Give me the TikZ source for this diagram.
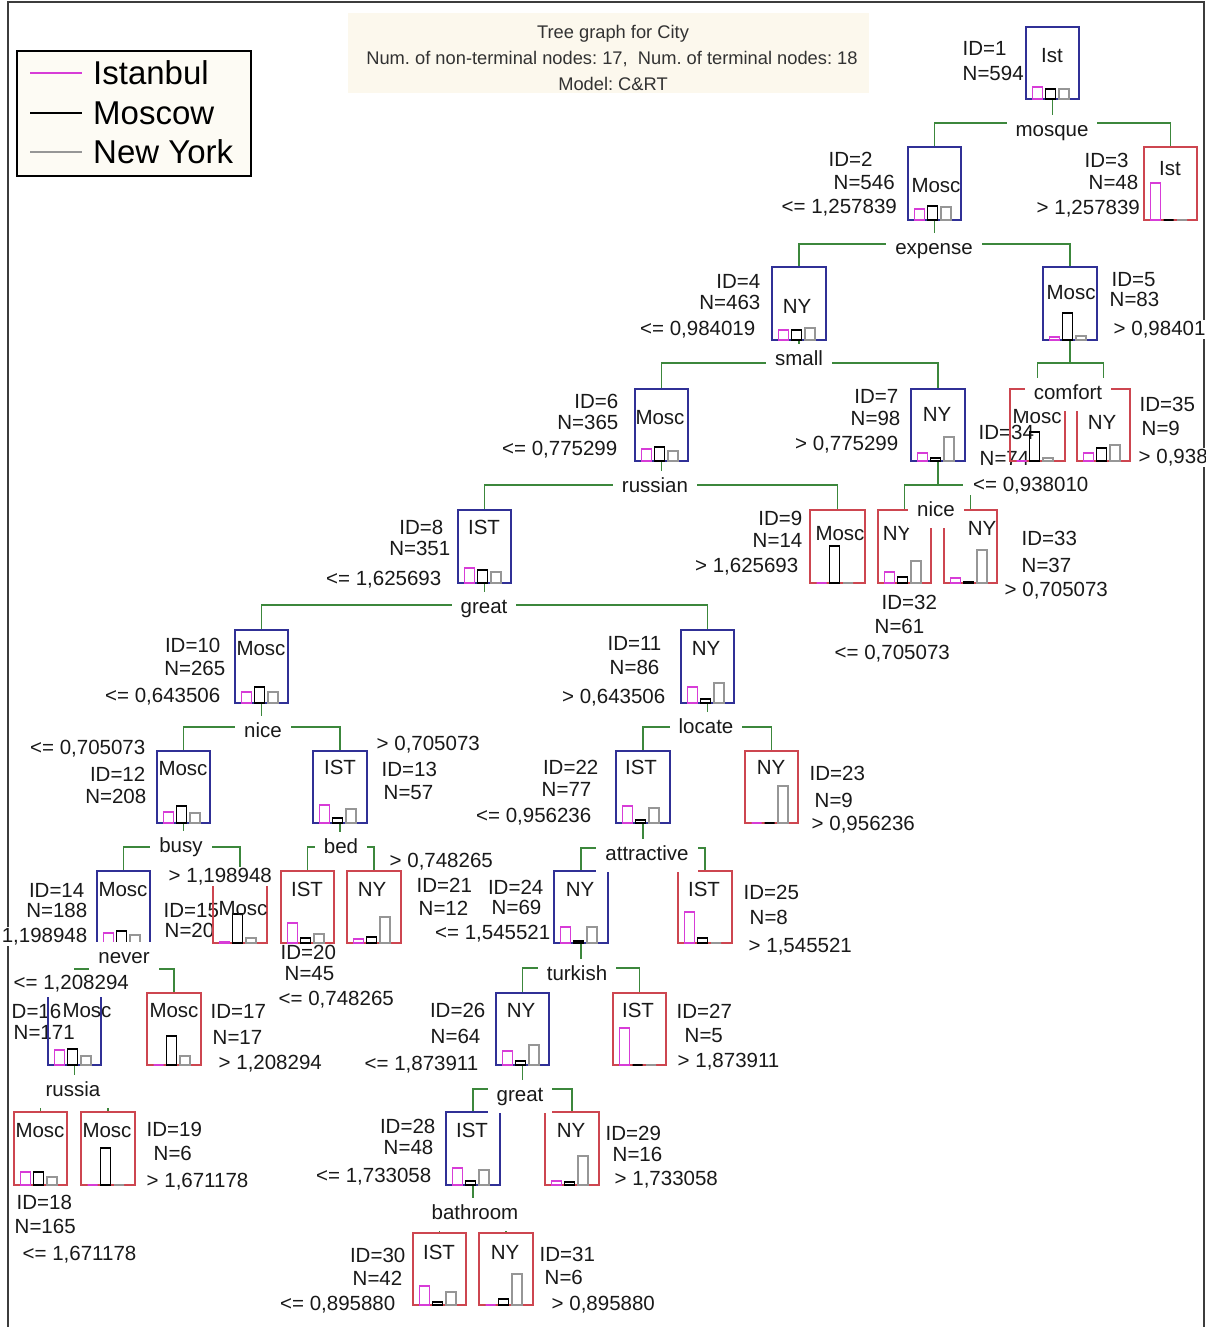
\documentclass[tikz,border=0pt]{standalone}
\usepackage{fontspec}
\setmainfont{Liberation Sans}
\usetikzlibrary{calc}
\frenchspacing

\definecolor{nodeblue}{RGB}{48,48,150}
\definecolor{leafred}{RGB}{205,70,80}
\definecolor{branchgreen}{RGB}{60,135,60}
\definecolor{istmag}{RGB}{215,60,215}
\definecolor{nygray}{RGB}{150,150,150}
\definecolor{titlebg}{RGB}{252,248,237}
\definecolor{legendbg}{RGB}{253,251,244}
\definecolor{framegray}{RGB}{60,60,60}
\definecolor{titletxt}{RGB}{50,50,50}

\pgfdeclarelayer{framelayer}
\pgfdeclarelayer{connlayer}
\pgfdeclarelayer{infolayer}
\pgfdeclarelayer{toplayer}
\pgfsetlayers{framelayer,connlayer,infolayer,main,toplayer}

\tikzset{
  every node/.style={font=\fontsize{20.5}{24}\selectfont, text=black!90},
  inner/.style={draw=nodeblue, line width=1.3pt, inner sep=0pt, outer sep=0pt},
  leaf/.style={draw=leafred, line width=1.3pt, inner sep=0pt, outer sep=0pt},
  barm/.style={draw=istmag, line width=1.2pt},
  barb/.style={draw=black, line width=1.2pt},
  barg/.style={draw=nygray, line width=1.2pt},
  boxlab/.style={anchor=mid, yshift=-5pt, inner sep=0pt},
  info/.style={fill=white, inner xsep=1.5pt, inner ysep=1pt, yshift=-5pt},
  split/.style={fill=white, anchor=mid, yshift=-4pt, inner xsep=9pt, inner ysep=6.5pt,
                text height=15pt, text depth=4.5pt},
  conn/.style={draw=branchgreen, line width=1.3pt},
  titletext/.style={font=\fontsize{18.3}{22}\selectfont, text=titletxt, anchor=mid, yshift=-3.5pt},
  legtext/.style={font=\fontsize{33}{38}\selectfont, text=black, anchor=mid west, yshift=-9pt, inner sep=0pt},
}

% box of a tree node: name, left, top, right, bottom, style
\newcommand{\tbox}[6]{\node[#6, minimum width={#4-#2}, minimum height={#5-#3}] (#1) at ({(#2+#4)/2},{(#3+#5)/2}) {};}
% class histogram inside a node: name, Istanbul, Moscow, New York bar heights
\newcommand{\tbars}[4]{%
  \draw[barm] ($(#1.south west)+(6.5,0)$) rectangle ++(10,-#2);
  \draw[barb] ($(#1.south west)+(19.5,0)$) rectangle ++(10,-#3);
  \draw[barg] ($(#1.south west)+(33,0)$) rectangle ++(10,-#4);}
% predicted class written in a node
\newcommand{\tlab}[4]{\node[boxlab] (#1t) at (#2,#3) {#4};}
% ID / N / threshold text beside a node
\newcommand{\infolab}[5]{\node[info, anchor=#4] (#1) at (#2,#3) {#5};}
% split: name, parent, left child, right child, label x, label y, bar y, variable
\newcommand{\tsplit}[8]{%
  \begin{pgfonlayer}{connlayer}
    \coordinate (#1h) at (#5,#7);
    \draw[conn] (#2.south) -- (#2.south |- #1h);
    \draw[conn] (#3.north) |- (#1h) -| (#4.north);
  \end{pgfonlayer}
  \begin{pgfonlayer}{toplayer}
    \node[split] (#1) at (#5,#6) {#8};
  \end{pgfonlayer}}

\begin{document}
\begin{tikzpicture}[x=1pt, y=-1pt]
\useasboundingbox (0,0) rectangle (1206,1327);

\begin{pgfonlayer}{framelayer}
  \fill[white] (0,0) rectangle (1206,1327);
  \draw[framegray, line width=2pt] (8,1330) -- (8,2) -- (1204,2) -- (1204,1330);
\end{pgfonlayer}

% title panel
\node[fill=titlebg, minimum width=521, minimum height=80, inner sep=0pt] (title) at (608,53) {};
\node[titletext] (title1) at (613,32) {Tree graph for City};
\node[titletext] (title2) at (612,58) {Num. of non-terminal nodes: 17,\ \ Num. of terminal nodes: 18};
\node[titletext] (title3) at (613,84) {Model: C\&RT};

% legend
\node[draw=black, line width=1.2pt, fill=legendbg, minimum width=234, minimum height=125, inner sep=0pt] (legend) at (134,113.5) {};
\draw[istmag, line width=1.3pt] (30,73) -- (82,73);
\draw[black, line width=1.3pt] (30,113) -- (82,113);
\draw[nygray, line width=1.3pt] (30,152) -- (82,152);
\node[legtext] (leg1) at (93,73) {Istanbul};
\node[legtext] (leg2) at (93,113) {Moscow};
\node[legtext] (leg3) at (93,152) {New York};

% node boxes
\tbox{n1}{1026}{27}{1079}{99}{inner}
\tbox{n2}{908}{147}{961}{220}{inner}
\tbox{n3}{1144}{147}{1197}{220}{leaf}
\tbox{n4}{772}{267}{826}{340}{inner}
\tbox{n5}{1043}{267}{1097}{340}{inner}
\tbox{n6}{635}{389}{688}{461}{inner}
\tbox{n7}{911}{389}{965}{461}{inner}
\tbox{n8}{458}{510}{511}{583}{inner}
\tbox{n9}{810}{510}{865}{583}{leaf}
\tbox{n10}{235}{630}{288}{703}{inner}
\tbox{n11}{681}{630}{734}{703}{inner}
\tbox{n12}{157}{751}{210}{823}{inner}
\tbox{n13}{313}{751}{367}{823}{inner}
\tbox{n14}{97}{871}{150}{943}{inner}
\tbox{n15}{213}{870}{267}{943}{leaf}
\tbox{n16}{48}{993}{101}{1065}{inner}
\tbox{n17}{147}{993}{201}{1065}{leaf}
\tbox{n18}{14}{1112}{67}{1185}{leaf}
\tbox{n19}{81}{1112}{135}{1185}{leaf}
\tbox{n20}{281}{871}{334}{943}{leaf}
\tbox{n21}{347}{871}{401}{943}{leaf}
\tbox{n22}{616}{751}{670}{823}{inner}
\tbox{n23}{745}{751}{798}{823}{leaf}
\tbox{n24}{554}{871}{608}{943}{inner}
\tbox{n25}{678}{871}{732}{943}{leaf}
\tbox{n26}{496}{993}{549}{1065}{inner}
\tbox{n27}{613}{993}{666}{1065}{leaf}
\tbox{n28}{446}{1112}{500}{1185}{inner}
\tbox{n29}{545}{1112}{599}{1185}{leaf}
\tbox{n30}{413}{1233}{466}{1305}{leaf}
\tbox{n31}{479}{1233}{533}{1305}{leaf}
\tbox{n32}{878}{510}{931}{583}{leaf}
\tbox{n33}{944}{510}{997}{583}{leaf}
\tbox{n34}{1010}{389}{1065}{461}{leaf}
\tbox{n35}{1077}{389}{1130}{461}{leaf}

% histograms
\tbars{n1}{12}{10}{10}
\tbars{n2}{11}{14}{13}
\tbars{n3}{37}{0}{0}
\tbars{n4}{10}{10}{12}
\tbars{n5}{3}{27}{4}
\tbars{n6}{12}{14}{10}
\tbars{n7}{8}{3}{24}
\tbars{n8}{15}{13}{11}
\tbars{n9}{0}{37}{0}
\tbars{n10}{11}{16}{11}
\tbars{n11}{16}{4}{20}
\tbars{n12}{11}{17}{10}
\tbars{n13}{18}{5}{14}
\tbars{n14}{10}{12}{8}
\tbars{n15}{1}{29}{5}
\tbars{n16}{15}{16}{9}
\tbars{n17}{0}{29}{9}
\tbars{n18}{13}{13}{8}
\tbars{n19}{0}{37}{0}
\tbars{n20}{20}{5}{9}
\tbars{n21}{4}{6}{26}
\tbars{n22}{17}{3}{15}
\tbars{n23}{0}{0}{37}
\tbars{n24}{16}{2}{16}
\tbars{n25}{31}{5}{0}
\tbars{n26}{14}{4}{20}
\tbars{n27}{37}{0}{0}
\tbars{n28}{17}{4}{15}
\tbars{n29}{4}{3}{29}
\tbars{n30}{19}{3}{13}
\tbars{n31}{0}{6}{31}
\tbars{n32}{11}{6}{22}
\tbars{n33}{5}{1}{33}
\tbars{n34}{0}{29}{3}
\tbars{n35}{8}{13}{16}

% predicted classes
\tlab{n1}{1052}{55}{Ist}
\tlab{n2}{936}{185}{Mosc}
\tlab{n3}{1170}{168}{Ist}
\tlab{n4}{797}{306}{NY}
\tlab{n5}{1071}{292}{Mosc}
\tlab{n6}{660}{417}{Mosc}
\tlab{n7}{937}{414}{NY}
\tlab{n8}{484}{527}{IST}
\tlab{n9}{840}{533}{Mosc}
\tlab{n10}{261}{648}{Mosc}
\tlab{n11}{706}{648}{NY}
\tlab{n12}{183}{768}{Mosc}
\tlab{n13}{340}{767}{IST}
\tlab{n14}{123}{889}{Mosc}
\tlab{n15}{243}{908}{Mosc}
\tlab{n16}{87}{1010}{Mosc}
\tlab{n17}{174}{1010}{Mosc}
\tlab{n18}{40}{1130}{Mosc}
\tlab{n19}{107}{1130}{Mosc}
\tlab{n20}{307}{889}{IST}
\tlab{n21}{372}{889}{NY}
\tlab{n22}{641}{767}{IST}
\tlab{n23}{771}{767}{NY}
\tlab{n24}{580}{889}{NY}
\tlab{n25}{704}{889}{IST}
\tlab{n26}{521}{1010}{NY}
\tlab{n27}{638}{1010}{IST}
\tlab{n28}{472}{1130}{IST}
\tlab{n29}{571}{1130}{NY}
\tlab{n30}{439}{1252}{IST}
\tlab{n31}{505}{1252}{NY}
\tlab{n32}{897}{533}{NY}
\tlab{n33}{982}{528}{NY}
\tlab{n34}{1037}{416}{Mosc}
\tlab{n35}{1102}{422}{NY}

% splits
\tsplit{s1}{n1}{n2}{n3}{1052}{130}{123}{mosque}
\tsplit{s2}{n2}{n4}{n5}{934}{248}{244}{expense}
\tsplit{s4}{n4}{n6}{n7}{799}{359}{363}{small}
\tsplit{s5}{n5}{n34}{n35}{1068}{393}{363}{comfort}
\tsplit{s6}{n6}{n8}{n9}{655}{486}{485}{russian}
\tsplit{s7}{n7}{n32}{n33}{936}{510}{485}{nice}
\tsplit{s8}{n8}{n10}{n11}{484}{607}{605}{great}
\tsplit{s10}{n10}{n12}{n13}{263}{731}{727}{nice}
\tsplit{s11}{n11}{n22}{n23}{706}{727}{727}{locate}
\tsplit{s12}{n12}{n14}{n15}{181}{846}{847}{busy}
\tsplit{s13}{n13}{n20}{n21}{341}{847}{847}{bed}
\tsplit{s22}{n22}{n24}{n25}{647}{854}{848}{attractive}
\tsplit{s14}{n14}{n16}{n17}{124}{957}{969}{never}
\tsplit{s24}{n24}{n26}{n27}{577}{974}{968}{turkish}
\tsplit{s26}{n26}{n28}{n29}{520}{1095}{1089}{great}
\tsplit{s16}{n16}{n18}{n19}{73}{1090}{1105}{russia}
\tsplit{s28}{n28}{n30}{n31}{475}{1213}{1227}{bathroom}

% node statistics
\begin{pgfonlayer}{infolayer}
\infolab{id1}{961}{48}{mid west}{ID=1}
\infolab{nn1}{961}{73}{mid west}{N=594}
\infolab{id2}{827}{159}{mid west}{ID=2}
\infolab{nn2}{832}{182}{mid west}{N=546}
\infolab{th2}{780}{206}{mid west}{<= 1,257839}
\infolab{id3}{1083}{160}{mid west}{ID=3}
\infolab{nn3}{1087}{182}{mid west}{N=48}
\infolab{th3}{1035}{207}{mid west}{> 1,257839}
\infolab{id4}{762}{281}{mid east}{ID=4}
\infolab{nn4}{762}{302}{mid east}{N=463}
\infolab{th4}{757}{328}{mid east}{<= 0,984019}
\infolab{id5}{1110}{279}{mid west}{ID=5}
\infolab{nn5}{1108}{299}{mid west}{N=83}
\infolab{th5}{1112}{328}{mid west}{> 0,98401}
\infolab{id6}{620}{401}{mid east}{ID=6}
\infolab{nn6}{620}{422}{mid east}{N=365}
\infolab{th6}{619}{448}{mid east}{<= 0,775299}
\infolab{id7}{900}{396}{mid east}{ID=7}
\infolab{nn7}{902}{418}{mid east}{N=98}
\infolab{th7}{900}{443}{mid east}{> 0,775299}
\infolab{id8}{445}{527}{mid east}{ID=8}
\infolab{nn8}{452}{548}{mid east}{N=351}
\infolab{th8}{443}{578}{mid east}{<= 1,625693}
\infolab{id9}{804}{518}{mid east}{ID=9}
\infolab{nn9}{804}{540}{mid east}{N=14}
\infolab{th9}{800}{565}{mid east}{> 1,625693}
\infolab{id10}{222}{645}{mid east}{ID=10}
\infolab{nn10}{227}{668}{mid east}{N=265}
\infolab{th10}{222}{695}{mid east}{<= 0,643506}
\infolab{id11}{663}{643}{mid east}{ID=11}
\infolab{nn11}{661}{667}{mid east}{N=86}
\infolab{th11}{667}{696}{mid east}{> 0,643506}
\infolab{th12}{147}{747}{mid east}{<= 0,705073}
\infolab{id12}{147}{774}{mid east}{ID=12}
\infolab{nn12}{148}{796}{mid east}{N=208}
\infolab{th13}{375}{743}{mid west}{> 0,705073}
\infolab{id13}{380}{769}{mid west}{ID=13}
\infolab{nn13}{382}{792}{mid west}{N=57}
\infolab{id14}{86}{890}{mid east}{ID=14}
\infolab{nn14}{89}{910}{mid east}{N=188}
\infolab{th14}{89}{935}{mid east}{1,198948}
\infolab{id15}{162}{910}{mid west}{ID=15}
\infolab{nn15}{163}{930}{mid west}{N=20}
\infolab{id16}{10}{1011}{mid west}{D=16}
\infolab{nn16}{12}{1032}{mid west}{N=171}
\infolab{id17}{209}{1011}{mid west}{ID=17}
\infolab{nn17}{211}{1037}{mid west}{N=17}
\infolab{th17}{217}{1062}{mid west}{> 1,208294}
\infolab{id18}{15}{1202}{mid west}{ID=18}
\infolab{nn18}{13}{1226}{mid west}{N=165}
\infolab{th18}{21}{1253}{mid west}{<= 1,671178}
\infolab{id19}{145}{1129}{mid west}{ID=19}
\infolab{nn19}{152}{1153}{mid west}{N=6}
\infolab{th19}{145}{1180}{mid west}{> 1,671178}
\infolab{id20}{279}{952}{mid west}{ID=20}
\infolab{nn20}{283}{973}{mid west}{N=45}
\infolab{th20}{277}{998}{mid west}{<= 0,748265}
\infolab{th21}{388}{860}{mid west}{> 0,748265}
\infolab{id21}{415}{885}{mid west}{ID=21}
\infolab{nn21}{417}{908}{mid west}{N=12}
\infolab{id22}{600}{767}{mid east}{ID=22}
\infolab{nn22}{593}{789}{mid east}{N=77}
\infolab{th22}{593}{815}{mid east}{<= 0,956236}
\infolab{id23}{808}{773}{mid west}{ID=23}
\infolab{nn23}{813}{800}{mid west}{N=9}
\infolab{th23}{810}{823}{mid west}{> 0,956236}
\infolab{id24}{545}{887}{mid east}{ID=24}
\infolab{nn24}{543}{907}{mid east}{N=69}
\infolab{th24}{552}{932}{mid east}{<= 1,545521}
\infolab{id25}{742}{892}{mid west}{ID=25}
\infolab{nn25}{748}{917}{mid west}{N=8}
\infolab{th25}{747}{945}{mid west}{> 1,545521}
\infolab{id26}{487}{1010}{mid east}{ID=26}
\infolab{nn26}{482}{1036}{mid east}{N=64}
\infolab{th26}{480}{1063}{mid east}{<= 1,873911}
\infolab{id27}{675}{1011}{mid west}{ID=27}
\infolab{nn27}{683}{1035}{mid west}{N=5}
\infolab{th27}{676}{1060}{mid west}{> 1,873911}
\infolab{id28}{437}{1126}{mid east}{ID=28}
\infolab{nn28}{435}{1147}{mid east}{N=48}
\infolab{th28}{433}{1175}{mid east}{<= 1,733058}
\infolab{id29}{604}{1133}{mid west}{ID=29}
\infolab{nn29}{611}{1154}{mid west}{N=16}
\infolab{th29}{613}{1178}{mid west}{> 1,733058}
\infolab{id30}{407}{1255}{mid east}{ID=30}
\infolab{nn30}{404}{1278}{mid east}{N=42}
\infolab{th30}{397}{1303}{mid east}{<= 0,895880}
\infolab{id31}{538}{1254}{mid west}{ID=31}
\infolab{nn31}{543}{1277}{mid west}{N=6}
\infolab{th31}{550}{1303}{mid west}{> 0,895880}
\infolab{id32}{880}{602}{mid west}{ID=32}
\infolab{nn32}{873}{626}{mid west}{N=61}
\infolab{th32}{833}{652}{mid west}{<= 0,705073}
\infolab{id33}{1020}{538}{mid west}{ID=33}
\infolab{nn33}{1020}{565}{mid west}{N=37}
\infolab{th33}{1003}{589}{mid west}{> 0,705073}
\infolab{id34}{977}{432}{mid west}{ID=34}
\infolab{nn34}{978}{458}{mid west}{N=74}
\node[info, anchor=mid west, inner xsep=10pt] (th34) at (963,484) {<= 0,938010};
\infolab{id35}{1138}{404}{mid west}{ID=35}
\infolab{nn35}{1140}{428}{mid west}{N=9}
\infolab{th35}{1137}{456}{mid west}{> 0,938}
\end{pgfonlayer}

% thresholds printed over neighbouring lines
\begin{pgfonlayer}{toplayer}
\infolab{th15}{167}{875}{mid west}{> 1,198948}
\node[info, anchor=mid west, inner ysep=5pt] (th16) at (12,982) {<= 1,208294};
\end{pgfonlayer}

\end{tikzpicture}
\end{document}
